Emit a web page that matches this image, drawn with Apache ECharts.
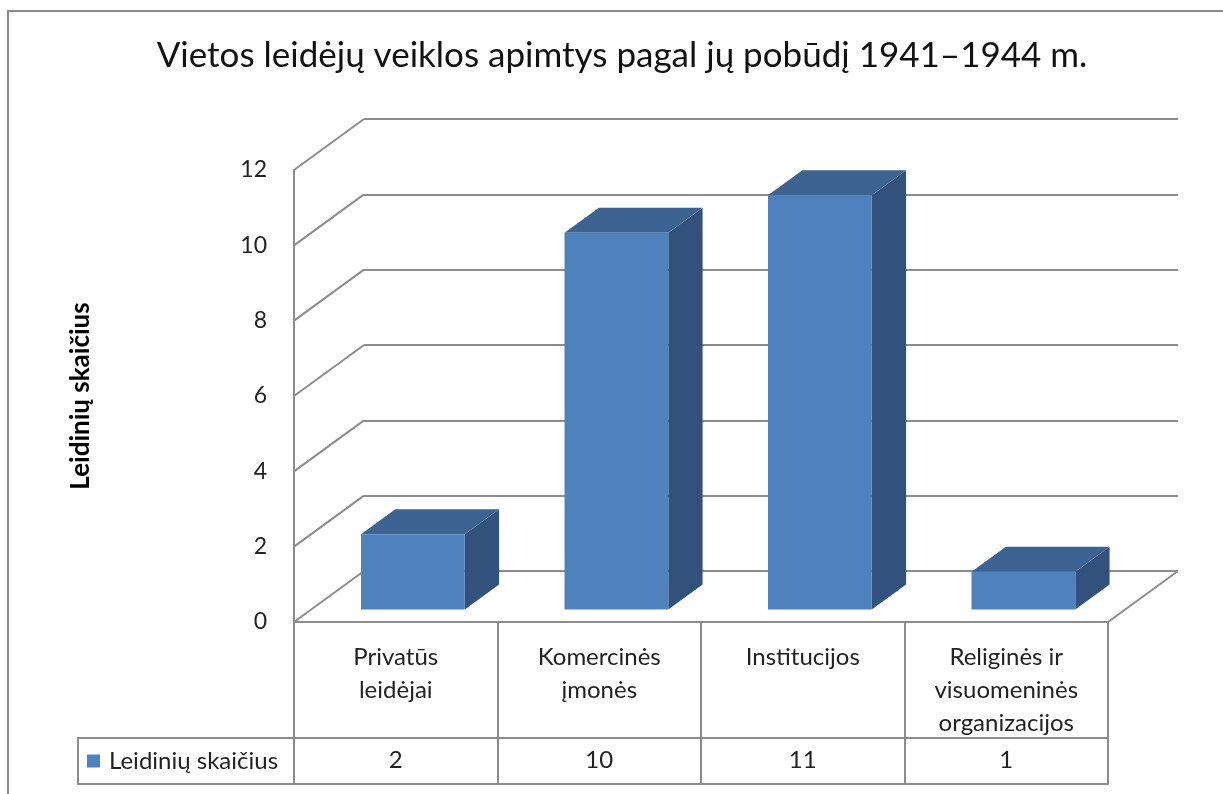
<!DOCTYPE html>
<html>
<head>
<meta charset="utf-8">
<script src="https://cdn.jsdelivr.net/npm/echarts@6/dist/echarts.min.js"></script>
<style>
  html, body { margin: 0; padding: 0; background: #fff; }
  #chart { width: 1223px; height: 794px; }
</style>
</head>
<body>
<div id="chart"></div>
<script>
const titleText = 'Vietos leidėjų veiklos apimtys pagal jų pobūdį 1941–1944 m.'
const seriesName = 'Leidinių skaičius'
const categories = ['Privatūs\nleidėjai', 'Komercinės\nįmonės', 'Institucijos', 'Religinės ir\nvisuomeninės\norganizacijos']
const counts = [2, 10, 11, 1]
const yTicks = [0, 2, 4, 6, 8, 10, 12]

// 3D look: how far the back wall sits from the front plane (px)
const DX = 70
const DY = -51
const lineColor = '#8c8c8c'
const textColor = '#222'
const font = 'Lato'

const chart = echarts.init(document.getElementById('chart'))

function leftEdge (api, v) {
  const p = api.coord([0, v])
  return [p[0] - api.size([1, 0])[0] / 2, p[1]]
}

const option = {
  animation: false,
  textStyle: { fontFamily: font },
  graphic: [{
    type: 'rect',
    shape: { x: 8, y: 11, width: 1400, height: 1000 },
    style: { fill: 'none', stroke: lineColor, lineWidth: 2 },
    z: -10
  }],
  title: {
    text: titleText,
    left: 617,
    textAlign: 'center',
    top: 33,
    textStyle: { fontFamily: font, fontSize: 35, fontWeight: 'normal', color: '#111' }
  },
  legend: {
    data: [seriesName],
    left: 78,
    top: 738,
    orient: 'horizontal',
    padding: [11, 9, 11, 9],
    borderColor: lineColor,
    borderWidth: 2,
    borderRadius: 0,
    icon: 'rect',
    itemWidth: 13,
    itemHeight: 13,
    selectedMode: false,
    textStyle: { fontFamily: font, fontSize: 24, color: textColor, width: 176, padding: [0, 0, 0, 4], lineHeight: 24, overflow: 'none' }
  },
  grid: [
    { left: 294, top: 170, width: 814, height: 452 },
    { left: 294 + DX, top: 170 + DY, width: 814, height: 452 }
  ],
  xAxis: [
    {
      gridIndex: 0,
      type: 'category',
      data: categories,
      position: 'bottom',
      axisLine: { show: true, lineStyle: { color: lineColor, width: 2 } },
      axisTick: { show: true, length: 162, interval: 0, lineStyle: { color: lineColor, width: 2 } },
      axisLabel: { interval: 0, margin: 19, fontSize: 24, lineHeight: 33, color: textColor, fontFamily: font }
    },
    {
      gridIndex: 0,
      type: 'category',
      data: categories,
      position: 'bottom',
      offset: 116,
      axisLine: { show: true, lineStyle: { color: lineColor, width: 2 } },
      axisTick: { show: false },
      axisLabel: { interval: 0, margin: 10, fontSize: 24, color: textColor, fontFamily: font, formatter: (v, i) => String(counts[i]) }
    },
    {
      gridIndex: 0,
      type: 'category',
      data: categories,
      position: 'bottom',
      offset: 162,
      axisLine: { show: true, lineStyle: { color: lineColor, width: 2 } },
      axisTick: { show: false },
      axisLabel: { show: false }
    },
    {
      gridIndex: 1,
      type: 'category',
      data: categories,
      show: false
    }
  ],
  yAxis: [
    {
      gridIndex: 0,
      type: 'value',
      min: 0,
      max: 12,
      interval: 2,
      name: seriesName,
      nameLocation: 'middle',
      nameRotate: 90,
      nameGap: 200,
      nameTextStyle: { fontFamily: font, fontSize: 26, fontWeight: 'bold', color: '#000' },
      axisLine: { show: true, lineStyle: { color: lineColor, width: 2 } },
      axisTick: { show: false },
      splitLine: { show: false },
      axisLabel: { margin: 27, fontSize: 23, color: textColor, fontFamily: font }
    },
    {
      gridIndex: 1,
      type: 'value',
      min: 0,
      max: 12,
      interval: 2,
      axisLine: { show: false },
      axisTick: { show: false },
      axisLabel: { show: false },
      splitLine: { show: true, lineStyle: { color: lineColor, width: 2 } }
    }
  ],
  series: [
    {
      // side wall and floor edges
      type: 'custom',
      xAxisIndex: 0,
      yAxisIndex: 0,
      silent: true,
      data: yTicks.map(v => [0, v]),
      encode: { x: 0, y: 1 },
      clip: false,
      renderItem: function (params, api) {
        const v = api.value(1)
        const p = leftEdge(api, v)
        const children = [{
          type: 'line',
          shape: { x1: p[0], y1: p[1], x2: p[0] + DX, y2: p[1] + DY },
          style: { stroke: lineColor, lineWidth: 2 }
        }]
        if (v === 0) {
          const r = api.coord([categories.length - 1, 0])
          const xr = r[0] + api.size([1, 0])[0] / 2
          children.push({
            type: 'line',
            shape: { x1: xr, y1: r[1], x2: xr + DX, y2: r[1] + DY },
            style: { stroke: lineColor, lineWidth: 2 }
          })
        }
        return { type: 'group', children: children }
      },
      z: 1
    },
    {
      name: seriesName,
      type: 'custom',
      xAxisIndex: 0,
      yAxisIndex: 0,
      itemStyle: { color: '#4f81bd' },
      data: counts.map((c, i) => [i, c]),
      encode: { x: 0, y: 1 },
      renderItem: function (params, api) {
        const top = api.coord([api.value(0), api.value(1)])
        const base = api.coord([api.value(0), 0])
        const bw = api.size([1, 0])[0] * 0.51
        const fx = DX * 0.245
        const fy = DY * 0.245
        const dx = DX * 0.49
        const dy = DY * 0.49
        const x0 = top[0] - bw / 2 + fx
        const x1 = x0 + bw
        const yT = top[1] + fy
        const yB = base[1] + fy
        return {
          type: 'group',
          children: [
            {
              type: 'polygon',
              shape: { points: [[x1, yT], [x1 + dx, yT + dy], [x1 + dx, yB + dy], [x1, yB]] },
              style: { fill: '#32527d' }
            },
            {
              type: 'polygon',
              shape: { points: [[x0, yT], [x0 + dx, yT + dy], [x1 + dx, yT + dy], [x1, yT]] },
              style: { fill: '#3c6391' }
            },
            {
              type: 'rect',
              shape: { x: x0, y: yT, width: bw, height: yB - yT },
              style: { fill: '#4f81bd' }
            }
          ]
        }
      },
      z: 3
    }
  ]
}

chart.setOption(option)
</script>
</body>
</html>
